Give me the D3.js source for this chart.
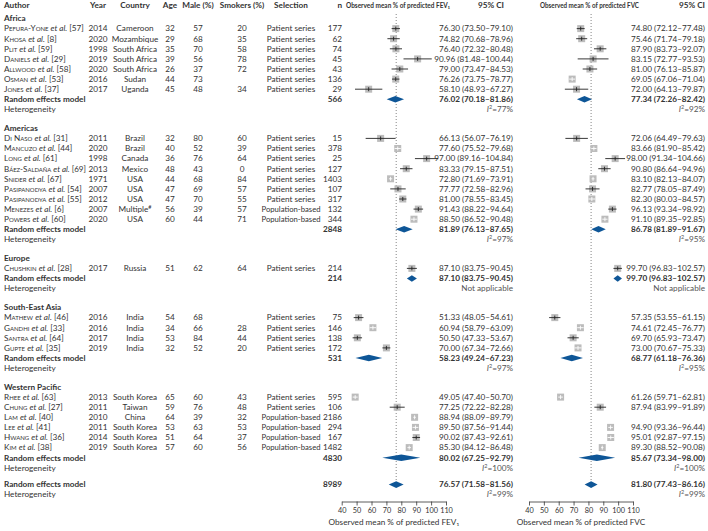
<!DOCTYPE html>
<html><head><meta charset="utf-8">
<script src="https://cdn.jsdelivr.net/npm/d3@7"></script>
<style>
html,body{margin:0;padding:0;background:#fff;}
svg{display:block;font-family:Lato,"Open Sans",sans-serif;font-size:8.2px;fill:#333;}
</style></head><body>
<script>
// ---------- DATA ----------
const regions = ["Africa","Americas","Europe","South-East Asia","Western Pacific"];
const studyRegion = [0,0,0,0,0,0,0, 1,1,1,1,1,1,1,1,1, 2, 3,3,3,3, 4,4,4,4,4,4];
const authors = ["Pefura-Yone","Khosa","Plit","Daniels","Allwood","Osman","Jones",
  "Di Naso","Mancuzo","Long","Báez-Saldaña","Snider","Pasipanodya","Pasipanodya","Menezes","Powers",
  "Chushkin","Mathew","Gandhi","Santra","Gupte","Rhee","Chung","Lam","Lee","Hwang","Kim"];
const refs = [57,8,59,29,58,53,37, 31,44,61,69,67,54,55,6,60, 28, 46,33,64,35, 63,27,40,41,36,38];
const years = [2014,2020,1998,2019,2020,2016,2017, 2011,2020,1998,2013,1971,2007,2012,2007,2020, 2017, 2016,2016,2017,2019, 2013,2011,2010,2011,2014,2019];
const countries = ["Cameroon","Mozambique","South Africa","South Africa","South Africa","Sudan","Uganda",
  "Brazil","Brazil","Canada","Mexico","USA","USA","USA","Multiple#","USA",
  "Russia","India","India","India","India","South Korea","Taiwan","China","South Korea","South Korea","South Korea"];
const ages = [32,29,35,39,26,44,45, 32,40,36,48,44,47,47,56,60, 51, 54,34,53,32, 65,59,64,53,51,57];
const males = [57,68,70,56,37,73,48, 80,52,76,43,68,69,70,39,44, 62, 68,66,84,52, 60,76,39,63,64,60];
const smokers = [20,35,58,78,72,null,34, 60,39,64,0,84,57,55,57,71, 64, null,28,44,20, 43,48,32,53,37,56];
const selections = ["Patient series","Patient series","Patient series","Patient series","Patient series","Patient series","Patient series",
  "Patient series","Patient series","Patient series","Patient series","Patient series","Patient series","Patient series","Population-based","Population-based",
  "Patient series","Patient series","Patient series","Patient series","Patient series",
  "Patient series","Patient series","Population-based","Population-based","Population-based","Population-based"];
const ns = [177,62,74,45,43,136,29, 15,378,25,127,1403,107,317,132,344, 214, 75,146,138,172, 595,106,2186,294,167,1482];
const fevMean = [76.30,74.82,76.40,90.96,79.00,76.26,58.10, 66.13,77.60,97.00,83.33,72.80,77.77,81.00,91.43,88.50, 87.10, 51.33,60.94,50.50,70.00, 49.05,77.25,88.94,89.50,90.02,85.30];
const fevLo = [73.50,70.68,72.32,81.48,73.47,73.75,48.93, 56.07,75.52,89.16,79.15,71.69,72.58,78.55,88.22,86.52, 83.75, 48.05,58.79,47.33,67.34, 47.40,72.22,88.09,87.56,87.43,84.12];
const fevHi = [79.10,78.96,80.48,100.44,84.53,78.77,67.27, 76.19,79.68,104.84,87.51,73.91,82.96,83.45,94.64,90.48, 90.45, 54.61,63.09,53.67,72.66, 50.70,82.28,89.79,91.44,92.61,86.48];
const fvcMean = [74.80,75.46,87.90,83.15,81.00,69.05,72.00, 72.06,83.66,98.00,90.80,83.10,82.77,82.30,96.13,91.10, 99.70, 57.35,74.61,69.70,73.00, 61.26,87.94,null,94.90,95.01,89.30];
const fvcLo = [72.12,71.74,83.73,72.77,76.13,67.06,64.13, 64.49,81.90,91.34,86.64,82.13,78.05,80.03,93.34,89.35, 96.83, 53.55,72.45,65.93,70.67, 59.71,83.99,null,93.36,92.87,88.52];
const fvcHi = [77.48,79.18,92.07,93.53,85.87,71.04,79.87, 79.63,85.42,104.66,94.96,84.07,87.49,84.57,98.92,92.85, 102.57, 61.15,76.77,73.47,75.33, 62.81,91.89,null,96.44,97.15,90.08];
// pooled (random effects) per region
const pooledN = [566,2848,214,531,4830];
const pooledFevMean = [76.02,81.89,87.10,58.23,80.02];
const pooledFevLo = [70.18,76.13,83.75,49.24,67.25];
const pooledFevHi = [81.86,87.65,90.45,67.23,92.79];
const pooledFvcMean = [77.34,86.78,99.70,68.77,85.67];
const pooledFvcLo = [72.26,81.89,96.83,61.18,73.34];
const pooledFvcHi = [82.42,91.67,102.57,76.36,98.00];
const i2Fev = ["77%","97%",null,"97%","100%"];
const i2Fvc = ["92%","95%",null,"95%","100%"];
// overall
const overallN = [8989];
const overallFev = [76.57,71.58,81.56];
const overallFvc = [81.80,77.43,86.16];
const overallI2 = ["99%","99%"];
const axisTicks = [40,50,60,70,80,90,100,110];

// ---------- LAYOUT ----------
const W = 708, H = 531;
const svg = d3.select("body").append("svg").attr("width",W).attr("height",H);
const xFev = d3.scaleLinear().domain([40,110]).range([341.7,446]);
const xFvc = d3.scaleLinear().domain([40,110]).range([529,633]);
const f2 = d3.format(".2f");
const ciText = (m,l,h) => `${f2(m)} (${f2(l)}–${f2(h)})`;

const STEP = 10.1, GAP = 18.7, HEAD = 10.3;
const col = {author:4, year:98, country:135, age:170, male:198, smk:242, sel:291, n:342, ciFev:513, ciFvc:705};
const txtColor = "#333";
const sqColor = "#bcbcbc";
const dmColor = "#0e5697";
const SQ = 7;

function text(x,y,str,anchor,opts={}){
  const t = svg.append("text").attr("x",x).attr("y",y).attr("dy","0.35em")
    .attr("text-anchor",anchor||"start").style("fill",opts.color||txtColor).text(str);
  if(opts.bold) t.style("font-weight","bold");
  if(opts.italic) t.style("font-style","italic");
  return t;
}
function capWidth(t,maxW){
  const w = t.node().getComputedTextLength();
  if(w>maxW) t.attr("textLength",maxW).attr("lengthAdjust","spacingAndGlyphs");
  return t;
}

// header
const hy = 5.5;
text(col.author,hy,"Author","start",{bold:true});
text(col.year,hy,"Year","middle",{bold:true});
text(col.country,hy,"Country","middle",{bold:true});
text(col.age,hy,"Age","middle",{bold:true});
text(col.male,hy,"Male (%)","middle",{bold:true});
text(col.smk,hy,"Smokers (%)","middle",{bold:true});
text(col.sel,hy,"Selection","middle",{bold:true});
text(col.n,hy,"n","end",{bold:true});
text(346,hy,"Observed mean % of predicted FEV\u2081","start",{bold:true})
  .attr("textLength",104).attr("lengthAdjust","spacingAndGlyphs");
text(504,hy,"95% CI","end",{bold:true});
text(540,hy,"Observed mean % of predicted FVC","start",{bold:true})
  .attr("textLength",99).attr("lengthAdjust","spacingAndGlyphs");
text(705,hy,"95% CI","end",{bold:true});

function i2Text(x,y,val){
  const t = svg.append("text").attr("x",x).attr("y",y).attr("dy","0.35em").attr("text-anchor","end").style("fill","#555");
  if(val===null){ t.text("Not applicable"); return; }
  t.append("tspan").style("font-style","italic").text("I");
  t.append("tspan").attr("baseline-shift","super").style("font-size","5.5px").text("2");
  t.append("tspan").text("="+val);
}

function study(x,y,m,l,h){
  if(m===null) return;
  const g = svg.append("g");
  const wpx = x(h)-x(l);
  g.append("rect").attr("x",x(m)-SQ/2).attr("y",y-SQ/2).attr("width",SQ).attr("height",SQ).attr("fill",sqColor);
  const inside = wpx < SQ+0.1;
  g.append("line").attr("x1",x(l)).attr("x2",x(h)).attr("y1",y).attr("y2",y)
    .attr("stroke",inside?"#fff":"#222").attr("stroke-width",0.9);
  g.append("line").attr("x1",x(m)).attr("x2",x(m)).attr("y1",y-2).attr("y2",y+2)
    .attr("stroke",inside?"#fff":"#222").attr("stroke-width",0.9);
}
function diamond(x,y,m,l,h){
  const hh = 3.3;
  svg.append("path").attr("d",`M${x(l)},${y}L${x(m)},${y-hh}L${x(h)},${y}L${x(m)},${y+hh}Z`).attr("fill",dmColor);
}

// reference dotted lines
[[xFev,overallFev[0]],[xFvc,overallFvc[0]]].forEach(([x,v])=>{
  svg.append("line").attr("x1",x(v)).attr("x2",x(v)).attr("y1",14).attr("y2",482)
    .attr("stroke","#666").attr("stroke-width",0.8).attr("stroke-dasharray","1,2");
});

let y = 18.3;
regions.forEach((r,ri)=>{
  if(ri>0) y += GAP;
  text(col.author,y,r,"start",{bold:true});
  y += HEAD;
  const idx = d3.range(authors.length).filter(i=>studyRegion[i]===ri);
  idx.forEach((i,k)=>{
    if(k>0) y += STEP;
    const t = svg.append("text").attr("x",col.author).attr("y",y).attr("dy","0.35em").style("fill",txtColor);
    t.append("tspan").style("font-variant","small-caps").text(authors[i]);
    t.append("tspan").text(" ");
    t.append("tspan").style("font-style","italic").text("et al.");
    t.append("tspan").text(" ["+refs[i]+"]");
    capWidth(t,82);
    text(col.year,y,years[i],"middle");
    if(countries[i].endsWith("#")){
      const c = text(col.country,y,countries[i].slice(0,-1),"middle");
      c.append("tspan").attr("baseline-shift","super").style("font-size","5.5px").text("#");
    } else text(col.country,y,countries[i],"middle");
    text(col.age,y,ages[i],"middle");
    text(col.male,y,males[i],"middle");
    if(smokers[i]!==null) text(col.smk,y,smokers[i],"middle");
    capWidth(text(col.sel,y,selections[i],"middle"),59);
    text(col.n,y,ns[i],"end");
    study(xFev,y,fevMean[i],fevLo[i],fevHi[i]);
    study(xFvc,y,fvcMean[i],fvcLo[i],fvcHi[i]);
    text(col.ciFev,y,ciText(fevMean[i],fevLo[i],fevHi[i]),"end");
    if(fvcMean[i]!==null) text(col.ciFvc,y,ciText(fvcMean[i],fvcLo[i],fvcHi[i]),"end");
  });
  y += STEP;
  text(col.author,y,"Random effects model","start",{bold:true});
  text(col.n,y,pooledN[ri],"end",{bold:true});
  diamond(xFev,y,pooledFevMean[ri],pooledFevLo[ri],pooledFevHi[ri]);
  diamond(xFvc,y,pooledFvcMean[ri],pooledFvcLo[ri],pooledFvcHi[ri]);
  text(col.ciFev,y,ciText(pooledFevMean[ri],pooledFevLo[ri],pooledFevHi[ri]),"end",{bold:true});
  text(col.ciFvc,y,ciText(pooledFvcMean[ri],pooledFvcLo[ri],pooledFvcHi[ri]),"end",{bold:true});
  y += STEP;
  text(col.author,y,"Heterogeneity","start");
  i2Text(col.ciFev,y,i2Fev[ri]);
  i2Text(col.ciFvc,y,i2Fvc[ri]);
});
// overall
y += 16.8;
text(col.author,y,"Random effects model","start",{bold:true});
text(col.n,y,overallN[0],"end",{bold:true});
diamond(xFev,y,overallFev[0],overallFev[1],overallFev[2]);
diamond(xFvc,y,overallFvc[0],overallFvc[1],overallFvc[2]);
text(col.ciFev,y,ciText(...overallFev),"end",{bold:true});
text(col.ciFvc,y,ciText(...overallFvc),"end",{bold:true});
y += 9.5;
text(col.author,y,"Heterogeneity","start");
i2Text(col.ciFev,y,overallI2[0]);
i2Text(col.ciFvc,y,overallI2[1]);

// axes
const axY = 501.5;
[[xFev,"FEV\u2081"],[xFvc,"FVC"]].forEach(([x,lab])=>{
  const g = svg.append("g").attr("transform",`translate(0,${axY})`)
    .call(d3.axisBottom(x).tickValues(axisTicks).tickSize(4).tickPadding(2).tickSizeOuter(0));
  g.select(".domain").attr("stroke","#333").attr("stroke-width",0.8);
  g.selectAll(".tick line").attr("stroke","#333").attr("stroke-width",0.8);
  g.selectAll(".tick text").attr("font-family","Lato, sans-serif").attr("font-size","7.3px").attr("fill","#333");
  const mid = (x.range()[0]+x.range()[1])/2;
  text(mid,522,"Observed mean % of predicted "+lab,"middle");
});
</script>
</body></html>
